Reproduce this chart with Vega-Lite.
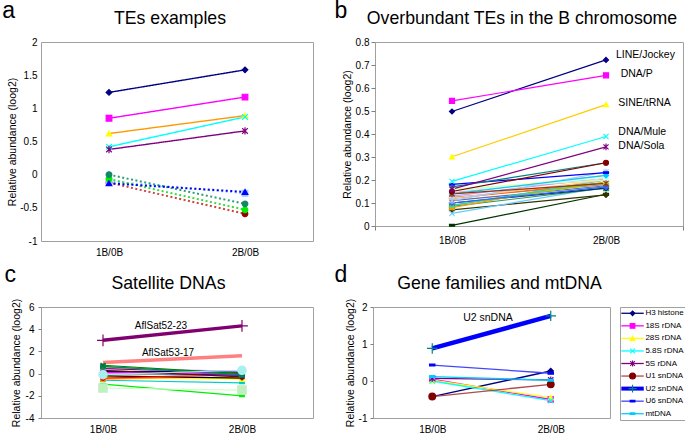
{
  "$schema": "https://vega.github.io/schema/vega-lite/v6.json",
  "padding": {"left": 2, "top": -1, "right": 0, "bottom": 0},
  "config": {
    "font": "Liberation Sans",
    "view": {"stroke": "#a0a0a0", "strokeWidth": 1},
    "axis": {"labelFont": "Liberation Sans", "titleFont": "Liberation Sans", "labelFontSize": 10, "titleFontSize": 10.5, "titleFontWeight": "normal", "labelColor": "#000000", "titleColor": "#000000", "grid": false, "domainColor": "#808080", "tickColor": "#808080", "labelFlush": false, "labelOverlap": false},
    "title": {"font": "Liberation Sans", "fontWeight": "normal", "color": "#000000"},
    "text": {"font": "Liberation Sans", "color": "#000000"}
  },
  "datasets": {
    "a": [
      {"series": "TE1", "pos": 1, "value": 1.24}, {"series": "TE1", "pos": 2, "value": 1.58},
      {"series": "TE2", "pos": 1, "value": 0.85}, {"series": "TE2", "pos": 2, "value": 1.17},
      {"series": "TE3", "pos": 1, "value": 0.62}, {"series": "TE3", "pos": 2, "value": 0.89},
      {"series": "TE4", "pos": 1, "value": 0.42}, {"series": "TE4", "pos": 2, "value": 0.87},
      {"series": "TE5", "pos": 1, "value": 0.38}, {"series": "TE5", "pos": 2, "value": 0.66},
      {"series": "TE10", "pos": 1, "value": -0.12}, {"series": "TE10", "pos": 2, "value": -0.59},
      {"series": "TE9", "pos": 1, "value": -0.1}, {"series": "TE9", "pos": 2, "value": -0.28},
      {"series": "TE7", "pos": 1, "value": -0.065}, {"series": "TE7", "pos": 2, "value": -0.53},
      {"series": "TE6", "pos": 1, "value": 0.0}, {"series": "TE6", "pos": 2, "value": -0.44},
      {"series": "TE8", "pos": 1, "value": -0.13}, {"series": "TE8", "pos": 2, "value": -0.26}
    ],
    "b": [
      {"series": "B27", "pos": 1, "value": 0.003}, {"series": "B27", "pos": 2, "value": 0.138},
      {"series": "B28", "pos": 1, "value": 0.07}, {"series": "B28", "pos": 2, "value": 0.135},
      {"series": "B30", "pos": 1, "value": 0.055}, {"series": "B30", "pos": 2, "value": 0.17},
      {"series": "B26", "pos": 1, "value": 0.085}, {"series": "B26", "pos": 2, "value": 0.165},
      {"series": "B25", "pos": 1, "value": 0.1}, {"series": "B25", "pos": 2, "value": 0.165},
      {"series": "B23", "pos": 1, "value": 0.11}, {"series": "B23", "pos": 2, "value": 0.175},
      {"series": "B24", "pos": 1, "value": 0.125}, {"series": "B24", "pos": 2, "value": 0.18},
      {"series": "B22", "pos": 1, "value": 0.12}, {"series": "B22", "pos": 2, "value": 0.19},
      {"series": "B21", "pos": 1, "value": 0.08}, {"series": "B21", "pos": 2, "value": 0.205},
      {"series": "B20", "pos": 1, "value": 0.155}, {"series": "B20", "pos": 2, "value": 0.2},
      {"series": "B19", "pos": 1, "value": 0.09}, {"series": "B19", "pos": 2, "value": 0.19},
      {"series": "B18", "pos": 1, "value": 0.09}, {"series": "B18", "pos": 2, "value": 0.2},
      {"series": "B17", "pos": 1, "value": 0.1}, {"series": "B17", "pos": 2, "value": 0.17},
      {"series": "B16", "pos": 1, "value": 0.12}, {"series": "B16", "pos": 2, "value": 0.2},
      {"series": "B15", "pos": 1, "value": 0.13}, {"series": "B15", "pos": 2, "value": 0.21},
      {"series": "B14", "pos": 1, "value": 0.145}, {"series": "B14", "pos": 2, "value": 0.22},
      {"series": "B13", "pos": 1, "value": 0.11}, {"series": "B13", "pos": 2, "value": 0.235},
      {"series": "B12", "pos": 1, "value": 0.155}, {"series": "B12", "pos": 2, "value": 0.215},
      {"series": "B11", "pos": 1, "value": 0.16}, {"series": "B11", "pos": 2, "value": 0.2},
      {"series": "B10", "pos": 1, "value": 0.15}, {"series": "B10", "pos": 2, "value": 0.21},
      {"series": "B09", "pos": 1, "value": 0.14}, {"series": "B09", "pos": 2, "value": 0.22},
      {"series": "B29", "pos": 1, "value": 0.14}, {"series": "B29", "pos": 2, "value": 0.185},
      {"series": "B08", "pos": 1, "value": 0.181}, {"series": "B08", "pos": 2, "value": 0.232},
      {"series": "B07", "pos": 1, "value": 0.17}, {"series": "B07", "pos": 2, "value": 0.275},
      {"series": "B06", "pos": 1, "value": 0.15}, {"series": "B06", "pos": 2, "value": 0.275},
      {"series": "DNA/Sola", "pos": 1, "value": 0.16}, {"series": "DNA/Sola", "pos": 2, "value": 0.344},
      {"series": "DNA/Mule", "pos": 1, "value": 0.194}, {"series": "DNA/Mule", "pos": 2, "value": 0.389},
      {"series": "SINE/tRNA", "pos": 1, "value": 0.301}, {"series": "SINE/tRNA", "pos": 2, "value": 0.528},
      {"series": "LINE/Jockey", "pos": 1, "value": 0.498}, {"series": "LINE/Jockey", "pos": 2, "value": 0.722},
      {"series": "DNA/P", "pos": 1, "value": 0.544}, {"series": "DNA/P", "pos": 2, "value": 0.655}
    ],
    "blab": [
      {"label": "LINE/Jockey", "pos": 2.065, "value": 0.743},
      {"label": "DNA/P", "pos": 2.095, "value": 0.66},
      {"label": "SINE/tRNA", "pos": 2.08, "value": 0.535},
      {"label": "DNA/Mule", "pos": 2.08, "value": 0.409},
      {"label": "DNA/Sola", "pos": 2.08, "value": 0.348}
    ],
    "c": [
      {"series": "C17", "pos": 1, "value": -0.95}, {"series": "C17", "pos": 2, "value": -2.0},
      {"series": "C16", "pos": 1, "value": -1.3}, {"series": "C16", "pos": 2, "value": -1.48},
      {"series": "C15", "pos": 1, "value": -0.6}, {"series": "C15", "pos": 2, "value": -0.83},
      {"series": "C12", "pos": 1, "value": -0.5}, {"series": "C12", "pos": 2, "value": -0.3},
      {"series": "C10", "pos": 1, "value": -0.3}, {"series": "C10", "pos": 2, "value": -0.5},
      {"series": "C11", "pos": 1, "value": -0.2}, {"series": "C11", "pos": 2, "value": -0.4},
      {"series": "C18", "pos": 1, "value": -0.4}, {"series": "C18", "pos": 2, "value": -0.1},
      {"series": "C14", "pos": 1, "value": 0.0}, {"series": "C14", "pos": 2, "value": -0.2},
      {"series": "C20", "pos": 1, "value": 0.1}, {"series": "C20", "pos": 2, "value": -0.15},
      {"series": "C19", "pos": 1, "value": 0.05}, {"series": "C19", "pos": 2, "value": 0.05},
      {"series": "C08", "pos": 1, "value": 0.1}, {"series": "C08", "pos": 2, "value": 0.0},
      {"series": "C07", "pos": 1, "value": 0.2}, {"series": "C07", "pos": 2, "value": 0.15},
      {"series": "C09", "pos": 1, "value": 0.3}, {"series": "C09", "pos": 2, "value": -0.3},
      {"series": "C06", "pos": 1, "value": 0.5}, {"series": "C06", "pos": 2, "value": 0.2},
      {"series": "C05", "pos": 1, "value": 0.45}, {"series": "C05", "pos": 2, "value": 0.1},
      {"series": "C21", "pos": 1, "value": 0.6}, {"series": "C21", "pos": 2, "value": -0.05},
      {"series": "C04", "pos": 1, "value": 0.65}, {"series": "C04", "pos": 2, "value": -0.1},
      {"series": "C03", "pos": 1, "value": 0.75}, {"series": "C03", "pos": 2, "value": 0.0},
      {"series": "C13", "pos": 1, "value": -0.1}, {"series": "C13", "pos": 2, "value": 0.3},
      {"series": "AflSat53-17", "pos": 1, "value": 1.0}, {"series": "AflSat53-17", "pos": 2, "value": 1.6},
      {"series": "AflSat52-23", "pos": 1, "value": 3.0}, {"series": "AflSat52-23", "pos": 2, "value": 4.3}
    ],
    "clab": [
      {"label": "AflSat52-23", "pos": 1.417, "value": 4.28},
      {"label": "AflSat53-17", "pos": 1.468, "value": 1.9}
    ],
    "d": [
      {"series": "H3 histone", "pos": 1, "value": -0.42}, {"series": "H3 histone", "pos": 2, "value": 0.27},
      {"series": "18S rDNA", "pos": 1, "value": 0.05}, {"series": "18S rDNA", "pos": 2, "value": -0.5},
      {"series": "28S rDNA", "pos": 1, "value": 0.02}, {"series": "28S rDNA", "pos": 2, "value": -0.45},
      {"series": "5.8S rDNA", "pos": 1, "value": 0.0}, {"series": "5.8S rDNA", "pos": 2, "value": -0.53},
      {"series": "5S rDNA", "pos": 1, "value": 0.07}, {"series": "5S rDNA", "pos": 2, "value": 0.03},
      {"series": "U1 snDNA", "pos": 1, "value": -0.42}, {"series": "U1 snDNA", "pos": 2, "value": -0.09},
      {"series": "U2 snDNA", "pos": 1, "value": 0.88}, {"series": "U2 snDNA", "pos": 2, "value": 1.76},
      {"series": "U6 snDNA", "pos": 1, "value": 0.43}, {"series": "U6 snDNA", "pos": 2, "value": 0.21},
      {"series": "mtDNA", "pos": 1, "value": 0.12}, {"series": "mtDNA", "pos": 2, "value": 0.02}
    ],
    "dlab": [
      {"label": "U2 snDNA", "pos": 1.47, "value": 1.7}
    ],
    "dleg": [
      {"series": "H3 histone"}, {"series": "18S rDNA"}, {"series": "28S rDNA"}, {"series": "5.8S rDNA"}, {"series": "5S rDNA"},
      {"series": "U1 snDNA"}, {"series": "U2 snDNA"}, {"series": "U6 snDNA"}, {"series": "mtDNA"}
    ]
  },
  "resolve": {"scale": {"x": "independent", "y": "independent", "color": "independent", "fill": "independent", "stroke": "independent", "shape": "independent", "strokeDash": "independent"}},
  "columns": 2,
  "align": "none",
  "spacing": {"row": 6, "column": 20},
  "concat": [
    {
      "title": {"text": "a", "anchor": "start", "frame": "bounds", "fontSize": 23, "baseline": "alphabetic", "offset": 0, "dx": -5, "dy": 31},
      "vconcat": [
        {
          "width": 272, "height": 199,
          "data": {"name": "a"},
          "title": {"text": "TEs examples", "fontSize": 17.7, "frame": "group", "anchor": "middle", "baseline": "alphabetic", "offset": -5, "dx": -7},
          "encoding": {
            "x": {"field": "pos", "type": "quantitative", "scale": {"domain": [0.5, 2.5], "nice": false, "zero": false},
                  "axis": {"values": [1, 2], "labelExpr": "datum.value == 1 ? '1B/0B' : '2B/0B'", "title": null, "domain": false, "ticks": false, "labelPadding": 6}},
            "y": {"field": "value", "type": "quantitative", "scale": {"domain": [-1, 2], "nice": false, "zero": false},
                  "axis": {"values": [-1, -0.5, 0, 0.5, 1, 1.5, 2], "labelExpr": "datum.value + ''", "title": "Relative abundance (loog2)", "domain": false, "ticks": false, "labelPadding": 4, "titlePadding": 2}}
          },
          "layer": [
            {
              "mark": {"type": "line"},
              "encoding": {
                "color": {"field": "series", "type": "nominal", "legend": null,
                          "scale": {"domain": ["TE1","TE2","TE3","TE4","TE5","TE6","TE7","TE8","TE9","TE10"],
                                    "range": ["#000080","#FF00FF","#FF9900","#00FFFF","#800080","#2E9E78","#33DD33","#0000FF","#99CCFF","#CC4444"]}},
                "strokeDash": {"field": "series", "type": "nominal", "legend": null,
                          "scale": {"domain": ["TE1","TE2","TE3","TE4","TE5","TE6","TE7","TE8","TE9","TE10"],
                                    "range": [[1,0],[1,0],[1,0],[1,0],[1,0],[2,2.5],[2,2.5],[2,2.5],[2,2.5],[2,2.5]]}},
                "strokeWidth": {"condition": {"test": "indexof(['TE6','TE7','TE8','TE9','TE10'], datum.series) >= 0", "value": 2}, "value": 1.4}
              }
            },
            {
              "mark": {"type": "point", "filled": true, "opacity": 1, "size": 32, "strokeWidth": 1.2},
              "encoding": {
                "shape": {"field": "series", "type": "nominal", "legend": null,
                          "scale": {"domain": ["TE1","TE2","TE3","TE4","TE5","TE6","TE7","TE8","TE9","TE10"],
                                    "range": ["diamond","square","triangle-up","M-1,-1L1,1M-1,1L1,-1","M-1,-1L1,1M-1,1L1,-1M0,-1.3L0,1.3","circle","circle","triangle-up","square","circle"]}},
                "fill": {"field": "series", "type": "nominal", "legend": null,
                          "scale": {"domain": ["TE1","TE2","TE3","TE4","TE5","TE6","TE7","TE8","TE9","TE10"],
                                    "range": ["#000080","#FF00FF","#FFFF00","#00FFFF","#800080","#118866","#00EE00","#0000FF","#99CCFF","#990000"]}},
                "stroke": {"field": "series", "type": "nominal", "legend": null,
                          "scale": {"domain": ["TE1","TE2","TE3","TE4","TE5","TE6","TE7","TE8","TE9","TE10"],
                                    "range": ["#000080","#FF00FF","#FFFF00","#00FFFF","#800080","#118866","#00EE00","#0000FF","#99CCFF","#990000"]}}
              }
            }
          ]
        }
      ]
    },
    {
      "title": {"text": "b", "anchor": "start", "frame": "bounds", "fontSize": 23, "baseline": "alphabetic", "offset": 0, "dx": -7, "dy": 31},
      "vconcat": [
        {
          "width": 308, "height": 184,
          "data": {"name": "b"},
          "title": {"text": "Overbundant TEs in the B chromosome", "fontSize": 17.7, "frame": "group", "anchor": "middle", "baseline": "alphabetic", "offset": -5, "dx": -7},
          "encoding": {
            "x": {"field": "pos", "type": "quantitative", "scale": {"domain": [0.5, 2.5], "nice": false, "zero": false},
                  "axis": {"values": [0.5, 1, 1.5, 2, 2.5], "labelExpr": "datum.value == 1 ? '1B/0B' : datum.value == 2 ? '2B/0B' : ''", "title": null, "domain": false, "ticks": true, "tickSize": 4,
                           "tickOpacity": {"condition": {"test": "datum.value == 1 || datum.value == 2", "value": 0}, "value": 1}, "labelPadding": 5}},
            "y": {"field": "value", "type": "quantitative", "scale": {"domain": [0, 0.8], "nice": false, "zero": false},
                  "axis": {"values": [0, 0.1, 0.2, 0.3, 0.4, 0.5, 0.6, 0.7, 0.8], "labelExpr": "datum.value + ''", "title": "Relative abundance (loog2)", "domain": false, "ticks": true, "tickSize": 4, "labelPadding": 2, "titlePadding": 3}}
          },
          "layer": [
            {
              "mark": {"type": "line", "strokeWidth": 1.2},
              "encoding": {
                "color": {"field": "series", "type": "nominal", "legend": null,
                          "scale": {"domain": ["LINE/Jockey","DNA/P","SINE/tRNA","DNA/Mule","DNA/Sola","B06","B07","B08","B09","B10","B11","B12","B13","B14","B15","B16","B17","B18","B19","B20","B21","B22","B23","B24","B25","B26","B27","B28","B29","B30"],
                                    "range": ["#000080","#FF00FF","#FFCC00","#00FFFF","#800080","#800000","#008080","#0000FF","#00CCFF","#CCFFFF","#CCFFCC","#FFFF99","#99CCFF","#FF99CC","#CC99FF","#FFCC99","#3366FF","#33CCCC","#99CC00","#FFCC00","#FF9900","#FF6600","#666699","#969696","#003366","#339966","#003300","#333300","#993300","#66CCFF"]}}
              }
            },
            {
              "mark": {"type": "point", "filled": true, "opacity": 1, "size": 26, "strokeWidth": 1.1},
              "encoding": {
                "shape": {"field": "series", "type": "nominal", "legend": null,
                          "scale": {"domain": ["LINE/Jockey","DNA/P","SINE/tRNA","DNA/Mule","DNA/Sola","B06","B07","B08","B09","B10","B11","B12","B13","B14","B15","B16","B17","B18","B19","B20","B21","B22","B23","B24","B25","B26","B27","B28","B29","B30"],
                                    "range": ["diamond","square","triangle-up","M-1,-1L1,1M-1,1L1,-1","M-1,-1L1,1M-1,1L1,-1M0,-1.3L0,1.3","circle","M-1,0L1,0M0,-1L0,1","M-1,-0.35L1,-0.35L1,0.35L-1,0.35Z","diamond","square","triangle-up","M-1,-1L1,1M-1,1L1,-1","M-1,-1L1,1M-1,1L1,-1M0,-1.3L0,1.3","circle","M-1,0L1,0M0,-1L0,1","M-1,-0.35L1,-0.35L1,0.35L-1,0.35Z","diamond","M-1,-1L1,1M-1,1L1,-1","triangle-up","M-1,-1L1,1M-1,1L1,-1M0,-1.3L0,1.3","triangle-up","circle","M-1,0L1,0M0,-1L0,1","square","diamond","square","M-1,-0.35L1,-0.35L1,0.35L-1,0.35Z","diamond","M-1,-1L1,1M-1,1L1,-1M0,-1.3L0,1.3","M-1,-1L1,1M-1,1L1,-1"]}},
                "fill": {"field": "series", "type": "nominal", "legend": null,
                          "scale": {"domain": ["LINE/Jockey","DNA/P","SINE/tRNA","DNA/Mule","DNA/Sola","B06","B07","B08","B09","B10","B11","B12","B13","B14","B15","B16","B17","B18","B19","B20","B21","B22","B23","B24","B25","B26","B27","B28","B29","B30"],
                                    "range": ["#000080","#FF00FF","#FFFF00","#00FFFF","#800080","#800000","#008080","#0000FF","#00CCFF","#CCFFFF","#CCFFCC","#FFFF99","#99CCFF","#FF99CC","#CC99FF","#FFCC99","#3366FF","#33CCCC","#99CC00","#FFCC00","#FF9900","#FF6600","#666699","#969696","#003366","#339966","#003300","#333300","#993300","#66CCFF"]}},
                "stroke": {"field": "series", "type": "nominal", "legend": null,
                          "scale": {"domain": ["LINE/Jockey","DNA/P","SINE/tRNA","DNA/Mule","DNA/Sola","B06","B07","B08","B09","B10","B11","B12","B13","B14","B15","B16","B17","B18","B19","B20","B21","B22","B23","B24","B25","B26","B27","B28","B29","B30"],
                                    "range": ["#000080","#FF00FF","#FFFF00","#00FFFF","#800080","#800000","#008080","#0000FF","#00CCFF","#CCFFFF","#CCFFCC","#FFFF99","#99CCFF","#FF99CC","#CC99FF","#FFCC99","#3366FF","#33CCCC","#99CC00","#FFCC00","#FF9900","#FF6600","#666699","#969696","#003366","#339966","#003300","#333300","#993300","#66CCFF"]}}
              }
            },
            {
              "data": {"name": "blab"},
              "mark": {"type": "text", "align": "left", "baseline": "middle", "fontSize": 10.5},
              "encoding": {"text": {"field": "label"}}
            }
          ]
        }
      ]
    },
    {
      "title": {"text": "c", "anchor": "start", "frame": "bounds", "fontSize": 23, "baseline": "alphabetic", "offset": 0, "dx": -6, "dy": 31},
      "vconcat": [
        {
          "width": 272, "height": 111,
          "data": {"name": "c"},
          "title": {"text": "Satellite DNAs", "fontSize": 17.7, "frame": "group", "anchor": "middle", "baseline": "alphabetic", "offset": -8, "dx": -8.5},
          "encoding": {
            "x": {"field": "pos", "type": "quantitative", "scale": {"domain": [0.554, 2.511], "nice": false, "zero": false},
                  "axis": {"values": [1, 2], "labelExpr": "datum.value == 1 ? '1B/0B' : '2B/0B'", "title": null, "domain": false, "ticks": false, "labelPadding": 6}},
            "y": {"field": "value", "type": "quantitative", "scale": {"domain": [-4, 6], "nice": false, "zero": false},
                  "axis": {"values": [-4, -2, 0, 2, 4, 6], "labelExpr": "datum.value + ''", "title": "Relative abundance (loog2)", "domain": false, "ticks": true, "tickSize": 3, "labelPadding": 4, "titlePadding": 4}}
          },
          "layer": [
            {
              "mark": {"type": "line"},
              "encoding": {
                "color": {"field": "series", "type": "nominal", "legend": null,
                          "scale": {"domain": ["AflSat52-23","AflSat53-17","C03","C04","C05","C06","C07","C08","C09","C10","C11","C12","C13","C14","C15","C16","C17","C18","C19","C20","C21"],
                                    "range": ["#800070","#FF8080","#008000","#008080","#800080","#CC99FF","#000080","#FF00FF","#800000","#FFFF00","#000000","#FF9900","#99EEEE","#969696","#00CCCC","#CCFFCC","#00EE00","#FF0000","#FF99CC","#0000FF","#99CC00"]}},
                "strokeWidth": {"condition": {"test": "datum.series === 'AflSat52-23' || datum.series === 'AflSat53-17'", "value": 3.5}, "value": 1.2}
              }
            },
            {
              "transform": [{"filter": "datum.series !== 'AflSat53-17'"}],
              "mark": {"type": "point", "filled": true, "opacity": 1, "strokeWidth": 1.2},
              "encoding": {
                "size": {"condition": [{"test": "datum.series === 'AflSat52-23'", "value": 140}, {"test": "datum.series === 'C13' || datum.series === 'C16'", "value": 70}], "value": 22},
                "shape": {"field": "series", "type": "nominal", "legend": null,
                          "scale": {"domain": ["AflSat52-23","AflSat53-17","C03","C04","C05","C06","C07","C08","C09","C10","C11","C12","C13","C14","C15","C16","C17","C18","C19","C20","C21"],
                                    "range": ["M-1,0L1,0M0,-1L0,1","circle","M-1,-1L1,1M-1,1L1,-1","square","M-1,-1L1,1M-1,1L1,-1M0,-1.3L0,1.3","square","diamond","square","circle","triangle-up","M-1,0L1,0M0,-1L0,1","triangle-up","circle","square","M-1,-0.35L1,-0.35L1,0.35L-1,0.35Z","square","M-1,-0.35L1,-0.35L1,0.35L-1,0.35Z","circle","square","diamond","triangle-up"]}},
                "fill": {"field": "series", "type": "nominal", "legend": null,
                          "scale": {"domain": ["AflSat52-23","AflSat53-17","C03","C04","C05","C06","C07","C08","C09","C10","C11","C12","C13","C14","C15","C16","C17","C18","C19","C20","C21"],
                                    "range": ["#800070","#FF8080","#008000","#008080","#800080","#CC99FF","#000080","#FF00FF","#800000","#FFFF00","#000000","#FF9900","#A8F0F0","#969696","#00CCCC","#C0F0C0","#00EE00","#FF0000","#FF99CC","#0000FF","#99CC00"]}},
                "stroke": {"field": "series", "type": "nominal", "legend": null,
                          "scale": {"domain": ["AflSat52-23","AflSat53-17","C03","C04","C05","C06","C07","C08","C09","C10","C11","C12","C13","C14","C15","C16","C17","C18","C19","C20","C21"],
                                    "range": ["#800070","#FF8080","#008000","#008080","#800080","#CC99FF","#000080","#FF00FF","#800000","#FFFF00","#000000","#FF9900","#A8F0F0","#969696","#00CCCC","#C0F0C0","#00EE00","#FF0000","#FF99CC","#0000FF","#99CC00"]}}
              }
            },
            {
              "data": {"name": "clab"},
              "mark": {"type": "text", "align": "center", "baseline": "middle", "fontSize": 10},
              "encoding": {"text": {"field": "label"}}
            }
          ]
        }
      ]
    },
    {
      "title": {"text": "d", "anchor": "start", "frame": "bounds", "fontSize": 23, "baseline": "alphabetic", "offset": 0, "dx": -10, "dy": 31},
      "bounds": "flush",
      "spacing": 10,
      "resolve": {"scale": {"x": "independent", "y": "independent", "color": "independent", "fill": "independent", "stroke": "independent", "shape": "independent"}},
      "hconcat": [
        {
          "width": 237, "height": 111,
          "data": {"name": "d"},
          "title": {"text": "Gene families and mtDNA", "fontSize": 17.7, "frame": "group", "anchor": "middle", "baseline": "alphabetic", "offset": -8, "dx": 8},
          "encoding": {
            "x": {"field": "pos", "type": "quantitative", "scale": {"domain": [0.5, 2.5], "nice": false, "zero": false},
                  "axis": {"values": [1, 2], "labelExpr": "datum.value == 1 ? '1B/0B' : '2B/0B'", "title": null, "domain": false, "ticks": false, "labelPadding": 6}},
            "y": {"field": "value", "type": "quantitative", "scale": {"domain": [-1, 2], "nice": false, "zero": false},
                  "axis": {"values": [-1, 0, 1, 2], "labelExpr": "datum.value + ''", "title": "Relative abundance (loog2)", "domain": false, "ticks": true, "tickSize": 3, "labelPadding": 3, "titlePadding": 3}}
          },
          "layer": [
            {
              "mark": {"type": "line"},
              "encoding": {
                "color": {"field": "series", "type": "nominal", "legend": null,
                          "scale": {"domain": ["H3 histone","18S rDNA","28S rDNA","5.8S rDNA","5S rDNA","U1 snDNA","U2 snDNA","U6 snDNA","mtDNA"],
                                    "range": ["#000080","#FF00FF","#FFFF00","#00FFFF","#800080","#B04A4A","#0000FF","#4444FF","#00CCFF"]}},
                "strokeWidth": {"condition": {"test": "datum.series === 'U2 snDNA'", "value": 4.5}, "value": 1.3}
              }
            },
            {
              "mark": {"type": "point", "filled": true, "opacity": 1, "strokeWidth": 1.2},
              "encoding": {
                "size": {"condition": [{"test": "datum.series === 'U2 snDNA'", "value": 110}, {"test": "datum.series === 'U1 snDNA'", "value": 45}], "value": 28},
                "shape": {"field": "series", "type": "nominal", "legend": null,
                          "scale": {"domain": ["H3 histone","18S rDNA","28S rDNA","5.8S rDNA","5S rDNA","U1 snDNA","U2 snDNA","U6 snDNA","mtDNA"],
                                    "range": ["diamond","square","triangle-up","M-1,-1L1,1M-1,1L1,-1","M-1,-1L1,1M-1,1L1,-1M0,-1.3L0,1.3","circle","M-1,0L1,0M0,-1L0,1","M-1,-0.35L1,-0.35L1,0.35L-1,0.35Z","M-1,-0.35L1,-0.35L1,0.35L-1,0.35Z"]}},
                "fill": {"field": "series", "type": "nominal", "legend": null,
                          "scale": {"domain": ["H3 histone","18S rDNA","28S rDNA","5.8S rDNA","5S rDNA","U1 snDNA","U2 snDNA","U6 snDNA","mtDNA"],
                                    "range": ["#000080","#FF00FF","#FFFF00","#00FFFF","#800080","#800000","#008080","#0000FF","#00CCFF"]}},
                "stroke": {"field": "series", "type": "nominal", "legend": null,
                          "scale": {"domain": ["H3 histone","18S rDNA","28S rDNA","5.8S rDNA","5S rDNA","U1 snDNA","U2 snDNA","U6 snDNA","mtDNA"],
                                    "range": ["#000080","#FF00FF","#FFFF00","#00FFFF","#800080","#800000","#008080","#0000FF","#00CCFF"]}}
              }
            },
            {
              "data": {"name": "dlab"},
              "mark": {"type": "text", "align": "center", "baseline": "middle", "fontSize": 10.5},
              "encoding": {"text": {"field": "label"}}
            }
          ]
        },
        {
          "width": 66, "height": 113,
          "data": {"name": "dleg"},
          "encoding": {
            "y": {"field": "series", "type": "nominal", "axis": null,
                  "scale": {"type": "point", "padding": 0.5, "domain": ["H3 histone","18S rDNA","28S rDNA","5.8S rDNA","5S rDNA","U1 snDNA","U2 snDNA","U6 snDNA","mtDNA"]}}
          },
          "layer": [
            {
              "mark": {"type": "rule"},
              "encoding": {
                "x": {"datum": 0.02, "type": "quantitative", "scale": {"domain": [0, 1], "nice": false, "zero": false}, "axis": null},
                "x2": {"datum": 0.36},
                "color": {"field": "series", "type": "nominal", "legend": null,
                          "scale": {"domain": ["H3 histone","18S rDNA","28S rDNA","5.8S rDNA","5S rDNA","U1 snDNA","U2 snDNA","U6 snDNA","mtDNA"],
                                    "range": ["#000080","#FF00FF","#FFFF00","#00FFFF","#800080","#B04A4A","#0000FF","#4444FF","#00CCFF"]}},
                "strokeWidth": {"condition": {"test": "datum.series === 'U2 snDNA'", "value": 4}, "value": 1.3}
              }
            },
            {
              "mark": {"type": "point", "filled": true, "opacity": 1, "strokeWidth": 1.1},
              "encoding": {
                "x": {"datum": 0.19, "type": "quantitative"},
                "size": {"condition": [{"test": "datum.series === 'U2 snDNA'", "value": 60}, {"test": "datum.series === 'U1 snDNA'", "value": 35}], "value": 22},
                "shape": {"field": "series", "type": "nominal", "legend": null,
                          "scale": {"domain": ["H3 histone","18S rDNA","28S rDNA","5.8S rDNA","5S rDNA","U1 snDNA","U2 snDNA","U6 snDNA","mtDNA"],
                                    "range": ["diamond","square","triangle-up","M-1,-1L1,1M-1,1L1,-1","M-1,-1L1,1M-1,1L1,-1M0,-1.3L0,1.3","circle","M-1,0L1,0M0,-1L0,1","M-1,-0.35L1,-0.35L1,0.35L-1,0.35Z","M-1,-0.35L1,-0.35L1,0.35L-1,0.35Z"]}},
                "fill": {"field": "series", "type": "nominal", "legend": null,
                          "scale": {"domain": ["H3 histone","18S rDNA","28S rDNA","5.8S rDNA","5S rDNA","U1 snDNA","U2 snDNA","U6 snDNA","mtDNA"],
                                    "range": ["#000080","#FF00FF","#FFFF00","#00FFFF","#800080","#800000","#008080","#0000FF","#00CCFF"]}},
                "stroke": {"field": "series", "type": "nominal", "legend": null,
                          "scale": {"domain": ["H3 histone","18S rDNA","28S rDNA","5.8S rDNA","5S rDNA","U1 snDNA","U2 snDNA","U6 snDNA","mtDNA"],
                                    "range": ["#000080","#FF00FF","#FFFF00","#00FFFF","#800080","#800000","#008080","#0000FF","#00CCFF"]}}
              }
            },
            {
              "mark": {"type": "text", "align": "left", "baseline": "middle", "fontSize": 8},
              "encoding": {
                "x": {"datum": 0.385, "type": "quantitative"},
                "text": {"field": "series"}
              }
            }
          ]
        }
      ]
    }
  ]
}
